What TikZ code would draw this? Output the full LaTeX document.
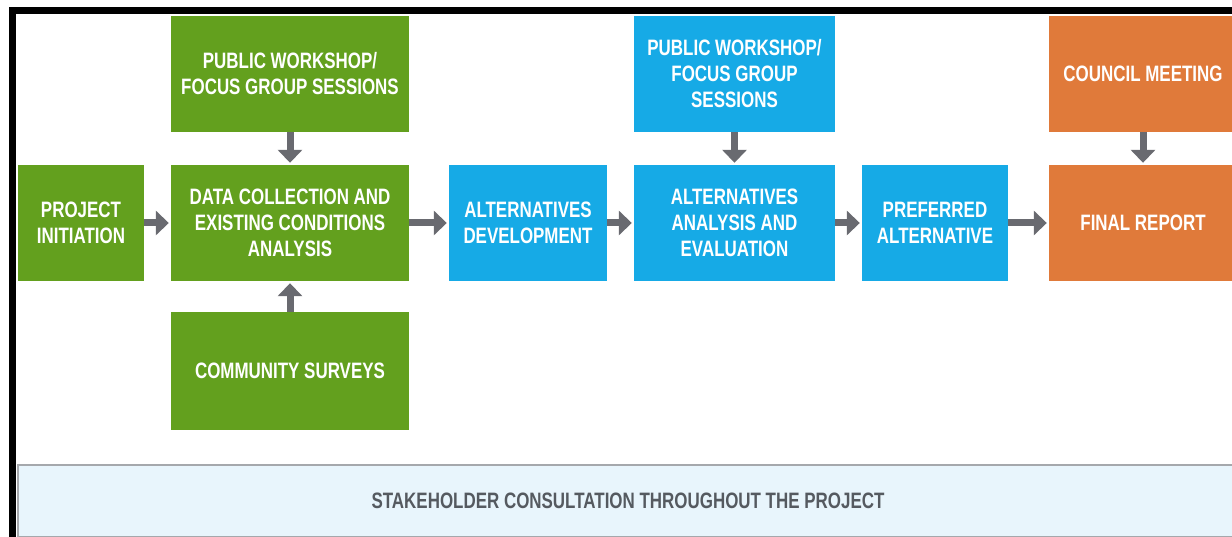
\documentclass[tikz,border=0pt]{standalone}
\usepackage{fontspec}
\setmainfont{Liberation Sans}[FakeStretch=0.76]
\usetikzlibrary{arrows.meta}
\definecolor{phasegreen}{RGB}{99,160,30}
\definecolor{phaseblue}{RGB}{22,170,230}
\definecolor{phaseorange}{RGB}{224,122,58}
\definecolor{arrowgray}{RGB}{105,106,112}
\definecolor{bandfill}{RGB}{232,245,252}
\definecolor{bandline}{RGB}{165,168,172}
\definecolor{bandtext}{RGB}{85,90,96}
\begin{document}
\begin{tikzpicture}[x=1pt, y=-1pt,
  box/.style={rectangle, inner sep=0pt, minimum height=116pt, align=center, text=white, font=\fontsize{22.3}{26}\selectfont\bfseries},
  greenbox/.style={box, fill=phasegreen},
  bluebox/.style={box, fill=phaseblue},
  orangebox/.style={box, fill=phaseorange},
  flow/.style={draw=arrowgray, line width=7pt, -{Triangle[width=24pt,length=13pt]}, shorten >=2pt}]
\useasboundingbox (0,0) rectangle (1232,537);
\clip (0,0) rectangle (1232,537);
\fill[white] (0,0) rectangle (1232,537);
\draw[line width=6.5pt, line join=miter] (12.7,545) -- (12.7,10.4) -- (1240,10.4);
% green phase
\node[greenbox, minimum width=126pt] (init) at (81,223) {PROJECT\\INITIATION};
\node[greenbox, minimum width=238pt] (data) at (290,223) {DATA COLLECTION AND\\EXISTING CONDITIONS\\ANALYSIS};
\node[greenbox, minimum width=238pt] (wsgreen) at (290,74) {PUBLIC WORKSHOP/\\FOCUS GROUP SESSIONS};
\node[greenbox, minimum width=238pt, minimum height=118pt] (survey) at (290,371) {COMMUNITY SURVEYS};
% blue phase
\node[bluebox, minimum width=158pt] (altdev) at (528,223) {ALTERNATIVES\\DEVELOPMENT};
\node[bluebox, minimum width=201pt] (alteval) at (734.5,223) {ALTERNATIVES\\ANALYSIS AND\\EVALUATION};
\node[bluebox, minimum width=201pt] (wsblue) at (734.5,74) {PUBLIC WORKSHOP/\\FOCUS GROUP\\SESSIONS};
\node[bluebox, minimum width=146pt] (pref) at (935,223) {PREFERRED\\ALTERNATIVE};
% orange phase
\node[orangebox, minimum width=188pt] (final) at (1143,223) {FINAL REPORT};
\node[orangebox, minimum width=188pt] (council) at (1143,74) {COUNCIL MEETING};
% band
\node[rectangle, fill=bandfill, draw=bandline, line width=1.5pt, minimum width=1220pt, minimum height=72pt, text=bandtext, font=\fontsize{22.3}{26}\selectfont\bfseries] (consult) at (628,501) {STAKEHOLDER CONSULTATION THROUGHOUT THE PROJECT};
\draw[flow](init) -- (data);
\draw[flow](data) -- (altdev);
\draw[flow](altdev) -- (alteval);
\draw[flow](alteval) -- (pref);
\draw[flow](pref) -- (final);
\draw[flow](wsgreen) -- (data);
\draw[flow](survey) -- (data);
\draw[flow](wsblue) -- (alteval);
\draw[flow](council) -- (final);
\end{tikzpicture}
\end{document}
